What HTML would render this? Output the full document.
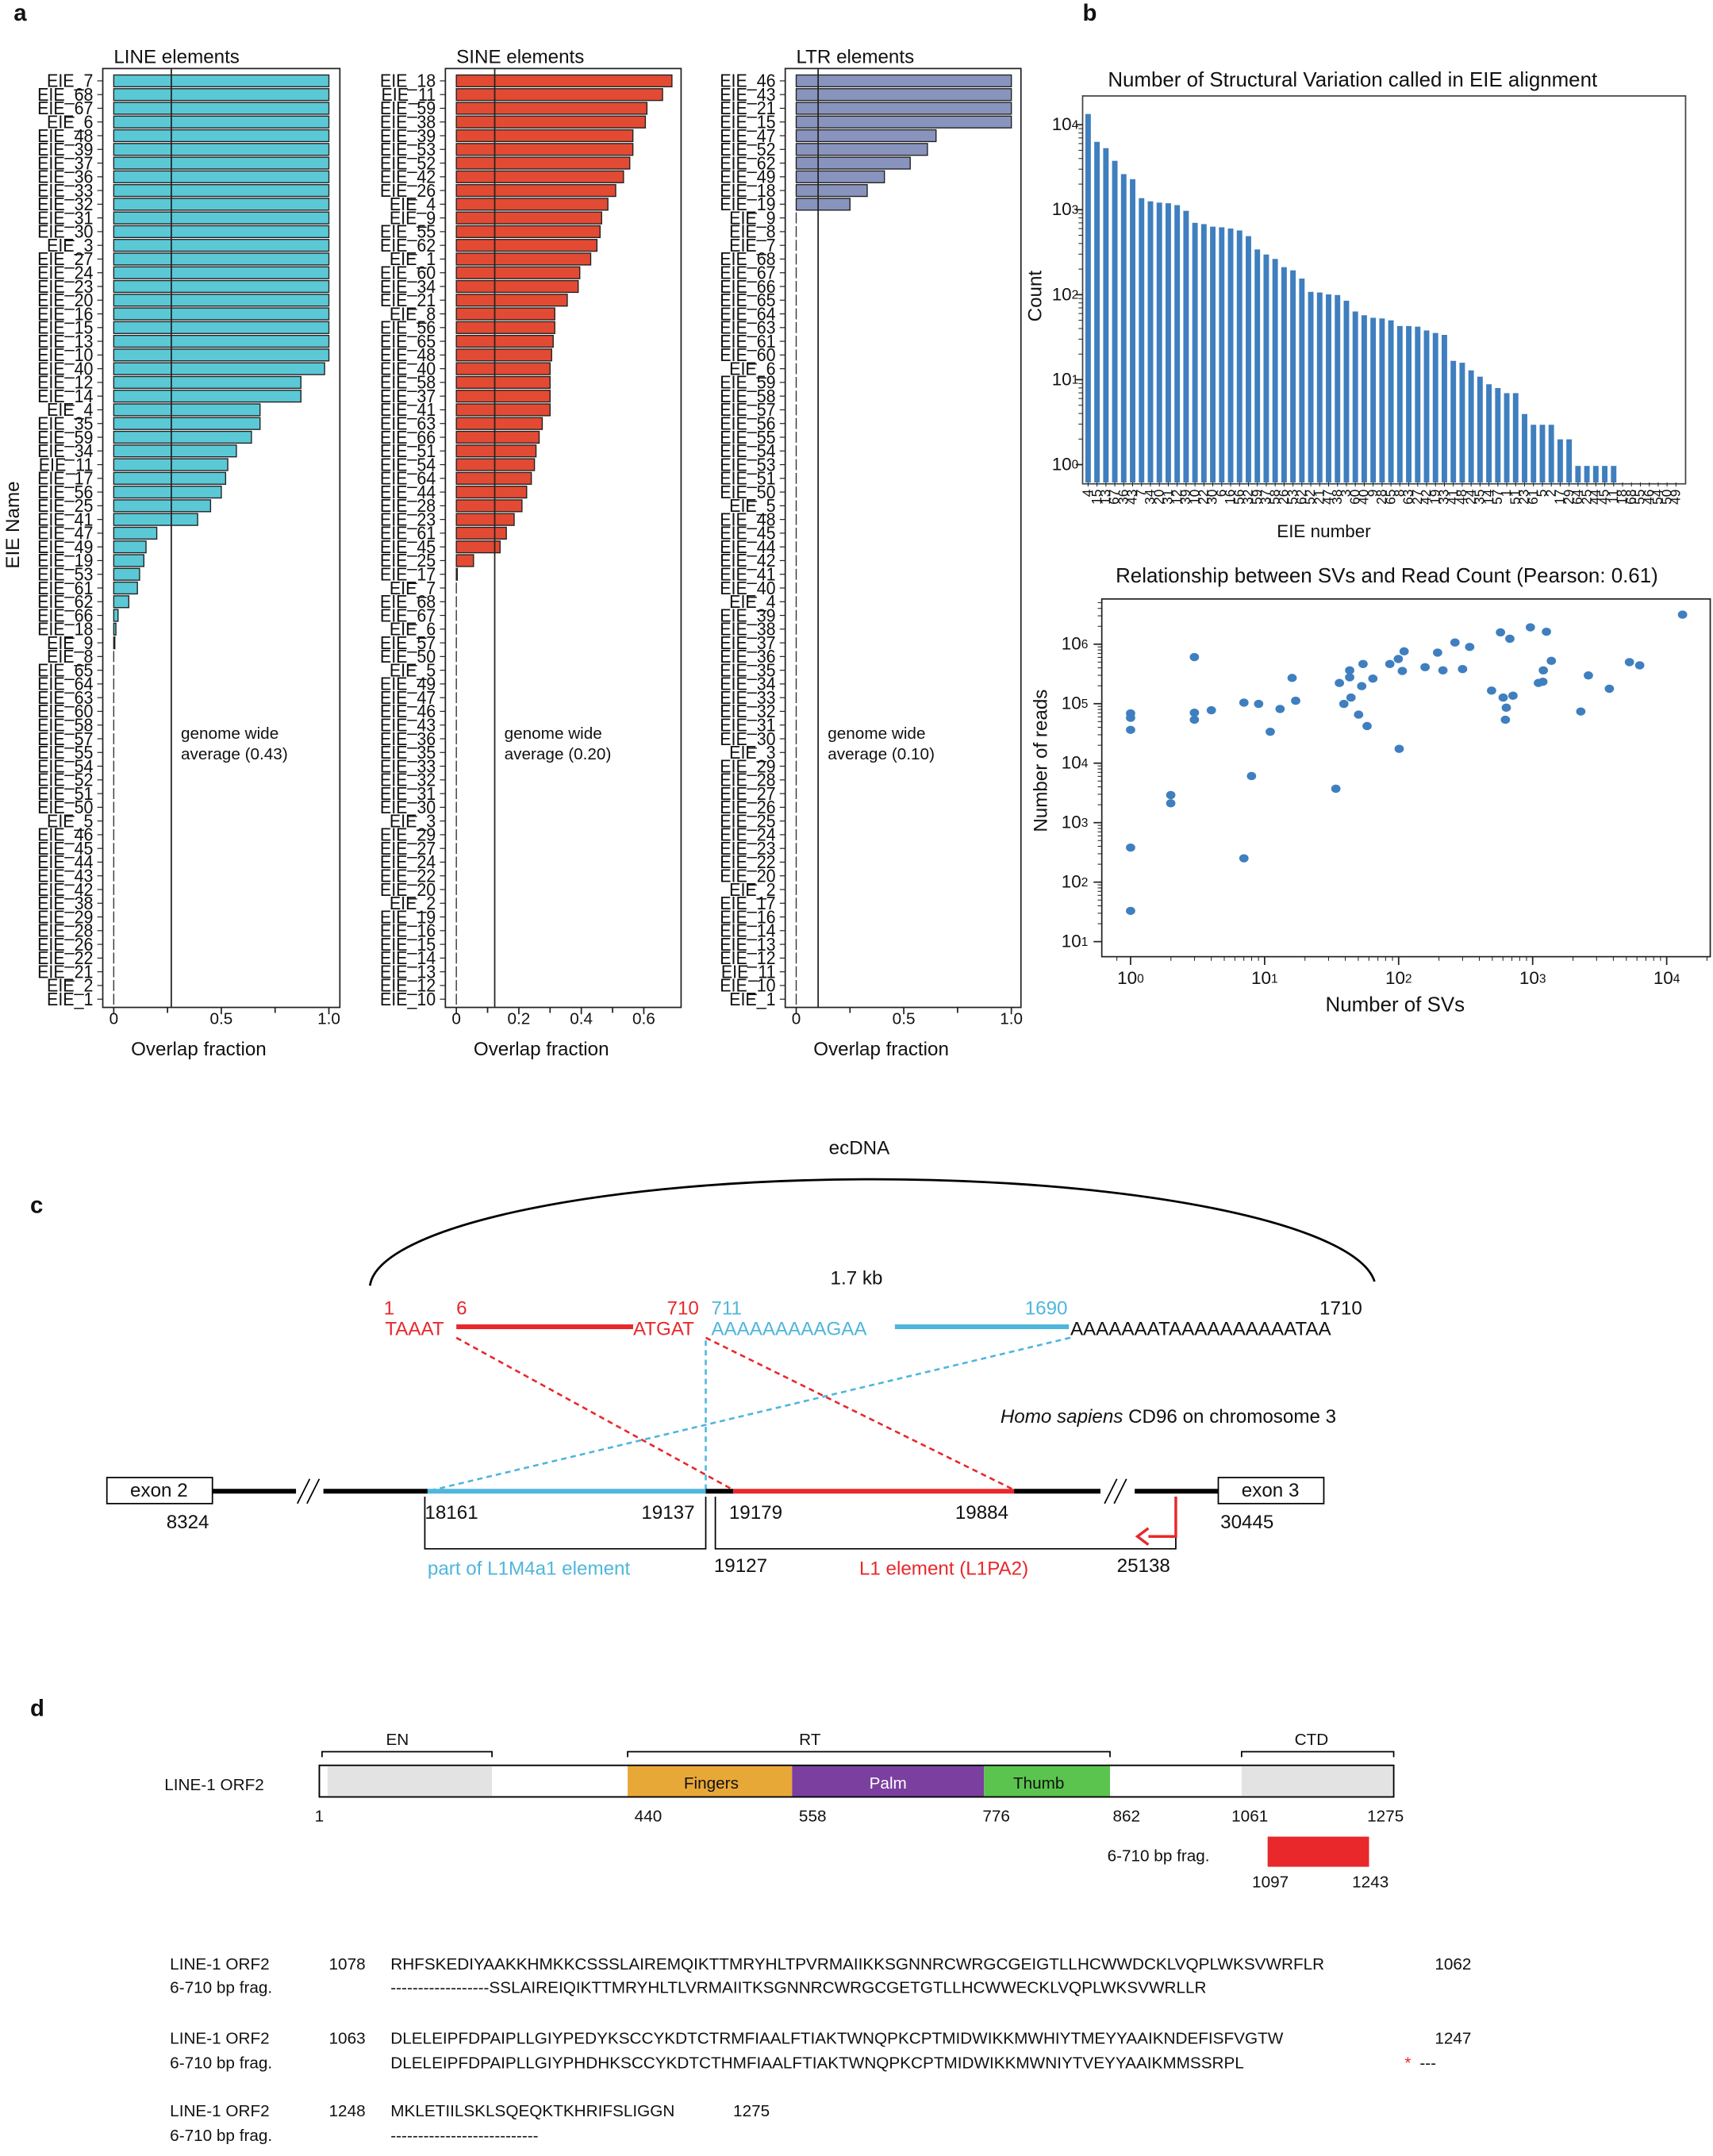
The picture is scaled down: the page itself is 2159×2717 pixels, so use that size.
<!DOCTYPE html>
<html><head><meta charset="utf-8"><style>
html,body{margin:0;padding:0;background:#fff}
svg{display:block}
text{font-family:"Liberation Sans",Arial,sans-serif;fill:#111}
</style></head><body>
<svg id="s" xmlns="http://www.w3.org/2000/svg" width="2159" height="2717" viewBox="0 0 1250 1573" preserveAspectRatio="none">
<rect width="1250" height="1573" fill="#fff"/>
<g id="g"></g>
</svg>
<script>
const g=document.getElementById('g');let h='';
function T(x,y,t,o){o=o||{};h+=`<text x="${x}" y="${y}" font-size="${o.fs||12}" ${o.a?`text-anchor="${o.a}"`:''} ${o.fill?`style="fill:${o.fill}"`:''} ${o.fw?`font-weight="${o.fw}"`:''} ${o.it?'font-style="italic"':''} ${o.tr?`transform="${o.tr}"`:''}>${t}</text>`;}
function L(x1,y1,x2,y2,c,w,d){h+=`<line x1="${x1}" y1="${y1}" x2="${x2}" y2="${y2}" stroke="${c||'#000'}" stroke-width="${w||1}" ${d?`stroke-dasharray="${d}"`:''}/>`;}
function R(x,y,w,hh,f,s,sw){h+=`<rect x="${x}" y="${y}" width="${w}" height="${hh}" fill="${f||'none'}" ${s?`stroke="${s}" stroke-width="${sw||1}"`:''}/>`;}
T(10,15,'a',{fs:17,fw:'bold'});T(790,15,'b',{fs:17,fw:'bold'});T(22,885,'c',{fs:17,fw:'bold'});T(22,1252,'d',{fs:17,fw:'bold'});
const panels=[
{x0:75,x1:248,z:83,sc:157,avg:125,title:'LINE elements',col:'#5bc8d6',avgt:'0.43',ticks:[[0,'0'],[0.5,'0.5'],[1,'1.0']],minor:[0.25,0.75],
names:[7,68,67,6,48,39,37,36,33,32,31,30,3,27,24,23,20,16,15,13,10,40,12,14,4,35,59,34,11,17,56,25,41,47,49,19,53,61,62,66,18,9,8,65,64,63,60,58,57,55,54,52,51,50,5,46,45,44,43,42,38,29,28,26,22,21,2,1],
vals:[1,1,1,1,1,1,1,1,1,1,1,1,1,1,1,1,1,1,1,1,1,.98,.87,.87,.68,.68,.64,.57,.53,.52,.5,.45,.39,.2,.15,.14,.12,.11,.07,.02,.01,.005]},
{x0:325,x1:497,z:333,sc:228,avg:361,title:'SINE elements',col:'#e34a33',avgt:'0.20',ticks:[[0,'0'],[0.2,'0.2'],[0.4,'0.4'],[0.6,'0.6']],minor:[0.1,0.3,0.5],
names:[18,11,59,38,39,53,52,42,26,4,9,55,62,1,60,34,21,8,56,65,48,40,58,37,41,63,66,51,54,64,44,28,23,61,45,25,17,7,68,67,6,57,50,5,49,47,46,43,36,35,33,32,31,30,3,29,27,24,22,20,2,19,16,15,14,13,12,10],
vals:[.69,.66,.61,.605,.565,.565,.555,.535,.51,.485,.465,.46,.45,.43,.395,.39,.355,.315,.315,.31,.305,.3,.3,.3,.3,.275,.265,.255,.25,.24,.225,.21,.185,.16,.14,.055,.003]},
{x0:573,x1:745,z:581,sc:157,avg:597,title:'LTR elements',col:'#8894bd',avgt:'0.10',ticks:[[0,'0'],[0.5,'0.5'],[1,'1.0']],minor:[0.25,0.75],
names:[46,43,21,15,47,52,62,49,18,19,9,8,7,68,67,66,65,64,63,61,60,6,59,58,57,56,55,54,53,51,50,5,48,45,44,42,41,40,4,39,38,37,36,35,34,33,32,31,30,3,29,28,27,26,25,24,23,22,20,2,17,16,14,13,12,11,10,1],
vals:[1,1,1,1,.65,.61,.53,.41,.33,.25]}];
panels.forEach(p=>{
 R(p.x0,50,p.x1-p.x0,685,'none','#222',1);
 T(p.x0+8,46,p.title,{fs:14});
 p.names.forEach((n,i)=>{const y=59+i*10;T(p.x0-7,y+4.5,'EIE_'+n,{fs:13.5,a:'end',tr:`translate(${p.x0-7},${y+4.5}) scale(0.92,1) translate(${-(p.x0-7)},${-(y+4.5)})`});
  L(p.x0-4,y,p.x0,y,'#222',0.7);
  if(i<p.vals.length){const w=p.vals[i]*p.sc;R(p.z,y-4.3,Math.max(w,0.6),8.6,p.col,'#222',0.8);} else L(p.z,y-4,p.z,y+4,'#333',0.8);
 });
 L(p.avg,50,p.avg,735,'#222',1);
 T(p.avg+7,539,'genome wide',{fs:12});T(p.avg+7,554,'average ('+p.avgt+')',{fs:12});
 p.ticks.forEach(t=>{const x=p.z+t[0]*p.sc;L(x,735,x,740,'#222');T(x,747,t[1],{fs:12,a:'middle'});});
 p.minor.forEach(t=>{const x=p.z+t*p.sc;L(x,735,x,739,'#222');});
 T(p.x0+70,770,'Overlap fraction',{fs:14,a:'middle'});
});
T(14,383,'EIE Name',{fs:14,a:'middle',tr:'rotate(-90 14 383)'});
const zy=v=>339+(v-672)*0.4618, zx=v=>741+v*0.3256;
R(790,70,440,283,'none','#444',1);
T(987,63,'Number of Structural Variation called in EIE alignment',{fs:15,a:'middle'});
[0,1,2,3,4].forEach(k=>{const y=339-k*62;L(785,y,790,y,'#222');h+=`<text x="787" y="${y+4}" font-size="13" text-anchor="end">10<tspan font-size="9" dy="-1">${k}</tspan></text>`;
 if(k<4)for(let m=2;m<10;m++){const yy=y-Math.log10(m)*62;L(787,yy,790,yy,'#222',0.6);}});
T(760,216,'Count',{fs:14,a:'middle',tr:'rotate(-90 760 216)'});
const bl=[4,15,13,67,36,43,7,34,20,31,12,39,10,22,30,6,16,56,32,59,37,58,26,53,62,52,21,47,38,3,60,40,9,28,65,8,63,27,42,19,33,41,48,24,35,14,57,1,51,23,61,5,2,17,29,64,25,44,45,11,18,68,55,46,54,50,49];
const bt=[118,162,172,192,213,221,251,256,258,259,262,271,290,292,296,297,299,302,311,332,340,347,360,365,378,399,400,403,404,413,430,436,440,441,444,453,453,454,460,464,467,508,511,523,533,545,551,559,559,592,609,609,609,632,632,674,674,674,674,674];
bl.forEach((n,i)=>{const x=794+i*6.5;if(i<bt.length){const y=zy(bt[i]);R(x-2,y,4,352-y,'#3f7fbf');}
 L(x,352,x,355,'#222',0.6);T(x+3,357,String(n),{fs:10,a:'end',tr:`rotate(-90 ${x+3} 357)`});});
T(966,392,'EIE number',{fs:13,a:'middle'});
R(804,437,444,261,'none','#222',1);
T(1012,425,'Relationship between SVs and Read Count (Pearson: 0.61)',{fs:15,a:'middle'});
for(let k=0;k<=4;k++){const x=825+k*97.8;L(x,698,x,704,'#222');h+=`<text x="${x}" y="718" font-size="13" text-anchor="middle">10<tspan font-size="9" dy="-1">${k}</tspan></text>`;
 for(let m=2;m<10;m++){const xx=x+Math.log10(m)*97.8;if(xx<1248)L(xx,698,xx,701,'#222',0.6);}}
L(815,698,815,701,'#222',0.6);
for(let k=1;k<=6;k++){const y=687-(k-1)*43.4;L(798,y,804,y,'#222');h+=`<text x="794" y="${y+4}" font-size="13" text-anchor="end">10<tspan font-size="9" dy="-1">${k}</tspan></text>`;
 for(let m=2;m<10;m++){const yy=y-Math.log10(m)*43.4;if(yy>437)L(801,yy,804,yy,'#222',0.6);}}
T(764,555,'Number of reads',{fs:14,a:'middle',tr:'rotate(-90 764 555)'});
T(1018,738,'Number of SVs',{fs:15,a:'middle'});
const pts=[[258,1065],[258,1072],[258,1091],[258,1277],[258,1377],[348,1194],[348,1207],[401,976],[401,1064],[401,1075],[439,1060],[512,1048],[512,1294],[529,1164],[545,1050],[571,1094],[593,1058],[620,1009],[628,1045],[718,1184],[726,1017],[736,1050],[749,997],[749,1008],[752,1040],[769,1067],[776,1022],[779,987],[788,1085],[801,1010],[839,987],[858,979],[860,1121],[867,998],[871,967],[918,992],[946,969],[958,997],[985,953],[1002,995],[1018,960],[1067,1029],[1087,937],[1093,1040],[1098,1075],[1100,1056],[1108,947],[1115,1037],[1154,929],[1172,1017],[1182,1015],[1183,997],[1190,936],[1201,982],[1267,1062],[1284,1005],[1331,1026],[1376,984],[1399,989],[1495,909]];
pts.forEach(p=>{h+=`<ellipse cx="${zx(p[0])}" cy="${zy(p[1])}" rx="3.4" ry="3" fill="#3f7fbf"/>`;});
T(627,842,'ecDNA',{fs:14,a:'middle'});
h+=`<path d="M270 938 A367 80 0 0 1 1003 935" fill="none" stroke="#000" stroke-width="1.6"/>`;
T(625,937,'1.7 kb',{fs:14,a:'middle'});
const red='#e8282b',blue='#4fb6dc';
T(280,959,'1',{fs:14,fill:red});T(333,959,'6',{fs:14,fill:red});T(510,959,'710',{fs:14,fill:red,a:'end'});
T(519,959,'711',{fs:14,fill:blue});T(779,959,'1690',{fs:14,fill:blue,a:'end'});T(994,959,'1710',{fs:14,a:'end'});
T(281,974,'TAAAT',{fs:14,fill:red});L(333,968,462,968,red,3.5);T(462,974,'ATGAT',{fs:14,fill:red});
T(519,974,'AAAAAAAAAGAA',{fs:14,fill:blue});L(653,968,780,968,blue,3.5);T(781,974,'AAAAAAATAAAAAAAAAATAA',{fs:14});
L(333,976,535,1087,red,1.5,'4,3');L(515,976,740,1087,red,1.5,'4,3');L(515,978,515,1088,blue,1.5,'4,3');L(781,976,312,1088,blue,1.5,'4,3');
h+=`<text x="730" y="1038" font-size="14"><tspan font-style="italic">Homo sapiens</tspan> CD96 on chromosome 3</text>`;
R(78,1078,77,19,'#fff','#000',1);T(116,1092,'exon 2',{fs:14,a:'middle'});
L(155,1088,216,1088,'#000',3.5);L(236,1088,312,1088,'#000',3.5);
L(217,1097,226,1079,'#000',1);L(224,1097,233,1079,'#000',1);
L(312,1088,515,1088,blue,3.5);L(515,1088,535,1088,'#000',3.5);L(535,1088,740,1088,red,3.5);L(740,1088,803,1088,'#000',3.5);
L(806,1097,815,1079,'#000',1);L(813,1097,822,1079,'#000',1);L(828,1088,889,1088,'#000',3.5);
R(889,1078,77,19,'#fff','#000',1);T(927,1092,'exon 3',{fs:14,a:'middle'});
T(137,1115,'8324',{fs:14,a:'middle'});T(910,1115,'30445',{fs:14,a:'middle'});
T(310,1108,'18161',{fs:14});T(468,1108,'19137',{fs:14});T(532,1108,'19179',{fs:14});T(697,1108,'19884',{fs:14});
h+=`<path d="M310 1092 V1130 H515 V1092 M522 1092 V1130 H858 V1092" fill="none" stroke="#000" stroke-width="1"/>`;
h+=`<path d="M858 1092 V1121 H838" fill="none" stroke="${red}" stroke-width="2"/><path d="M838 1115 L830 1121 L838 1127" fill="none" stroke="${red}" stroke-width="2"/>`;
T(312,1149,'part of L1M4a1 element',{fs:14,fill:blue});T(521,1147,'19127',{fs:14});T(627,1149,'L1 element (L1PA2)',{fs:14,fill:red});T(815,1147,'25138',{fs:14});
R(233,1288,784,23,'#fff','#000',1);
R(239,1288,120,23,'#e3e3e3');R(458,1288,120,23,'#e8a838');R(578,1288,140,23,'#7b3fa0');R(718,1288,92,23,'#5bc44e');R(906,1288,111,23,'#e3e3e3');
R(233,1288,784,23,'none','#000',1);
T(519,1305,'Fingers',{fs:12,a:'middle'});T(648,1305,'Palm',{fs:12,a:'middle',fill:'#fff'});T(758,1305,'Thumb',{fs:12,a:'middle'});
h+=`<path d="M235 1282 V1278 H359 V1282 M458 1282 V1278 H810 V1282 M906 1282 V1278 H1017 V1282" fill="none" stroke="#000" stroke-width="1"/>`;
T(290,1273,'EN',{fs:12,a:'middle'});T(591,1273,'RT',{fs:12,a:'middle'});T(957,1273,'CTD',{fs:12,a:'middle'});
T(120,1306,'LINE-1 ORF2',{fs:12});
[[233,'1'],[473,'440'],[593,'558'],[727,'776'],[822,'862'],[912,'1061'],[1011,'1275']].forEach(t=>T(t[0],1329,t[1],{fs:12,a:'middle'}));
T(808,1358,'6-710 bp frag.',{fs:12});R(925,1340,74,22,'#e8282b');
T(927,1377,'1097',{fs:12,a:'middle'});T(1000,1377,'1243',{fs:12,a:'middle'});
const rows=[[1437,'LINE-1 ORF2','1078','RHFSKEDIYAAKKHMKKCSSSLAIREMQIKTTMRYHLTPVRMAIIKKSGNNRCWRGCGEIGTLLHCWWDCKLVQPLWKSVWRFLR','1062'],
[1454,'6-710 bp frag.','','------------------SSLAIREIQIKTTMRYHLTLVRMAIITKSGNNRCWRGCGETGTLLHCWWECKLVQPLWKSVWRLLR',''],
[1491,'LINE-1 ORF2','1063','DLELEIPFDPAIPLLGIYPEDYKSCCYKDTCTRMFIAALFTIAKTWNQPKCPTMIDWIKKMWHIYTMEYYAAIKNDEFISFVGTW','1247'],
[1509,'6-710 bp frag.','','DLELEIPFDPAIPLLGIYPHDHKSCCYKDTCTHMFIAALFTIAKTWNQPKCPTMIDWIKKMWNIYTVEYYAAIKMMSSRPL',''],
[1544,'LINE-1 ORF2','1248','MKLETIILSKLSQEQKTKHRIFSLIGGN','1275'],
[1562,'6-710 bp frag.','','---------------------------','']];
rows.forEach((r,i)=>{T(124,r[0],r[1],{fs:12});if(r[2])T(240,r[0],r[2],{fs:12});
 T(285,r[0],r[3],{fs:12});if(r[4])T(i==4?535:1047,r[0],r[4],{fs:12});});
T(1025,1509,'*',{fs:12,fill:red});T(1036,1509,'---',{fs:12});
g.innerHTML=h;
</script>
</body></html>
